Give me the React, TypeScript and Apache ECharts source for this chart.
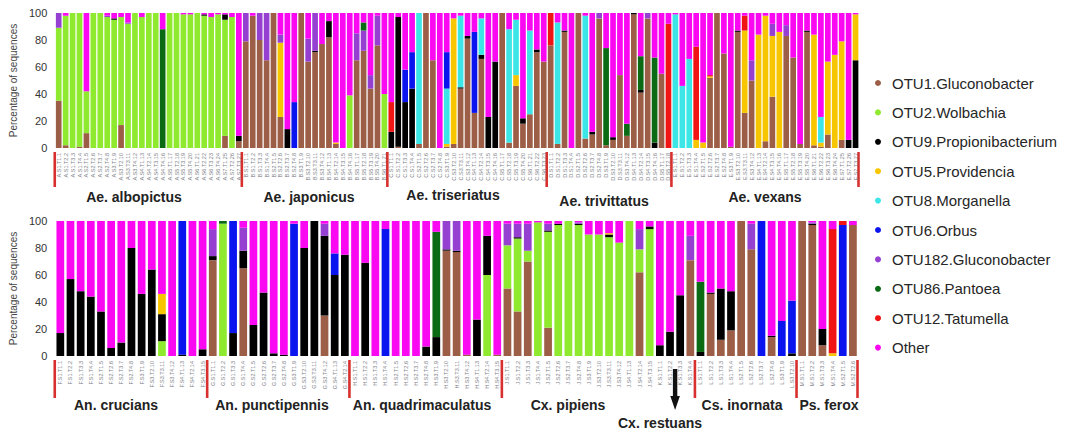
import { useEffect, useRef } from 'react';
import * as echarts from 'echarts';

// OTU order = stacking order, bottom to top
const OTU_NAMES = [
  'OTU1.Gluconobacter',
  'OTU2.Wolbachia',
  'OTU9.Propionibacterium',
  'OTU5.Providencia',
  'OTU8.Morganella',
  'OTU6.Orbus',
  'OTU182.Gluconobacter',
  'OTU86.Pantoea',
  'OTU12.Tatumella',
  'Other',
];
const OTU_COLORS = [
  '#9C5E46', '#8FEA2F', '#000000', '#F7C600', '#3DE6E6',
  '#0A14EE', '#9640D2', '#0B6A14', '#F01414', '#FA08F2',
];

// Percentage of sequences per sample; columns follow OTU_NAMES
const aeAlbopictus = [
  [35, 54, 0, 0, 0, 0, 11, 0, 0, 0],
  [2, 96, 0, 0, 0, 0, 0, 0, 0, 2],
  [0, 100, 0, 0, 0, 0, 0, 0, 0, 0],
  [1, 99, 0, 0, 0, 0, 0, 0, 0, 0],
  [11, 31, 0, 0, 0, 0, 0, 0, 0, 58],
  [0, 100, 0, 0, 0, 0, 0, 0, 0, 0],
  [0, 100, 0, 0, 0, 0, 0, 0, 0, 0],
  [0, 97, 0, 0, 0, 0, 1, 0, 0, 2],
  [0, 95, 1, 0, 0, 0, 0, 0, 0, 4],
  [17, 80, 0, 0, 0, 0, 0, 0, 0, 3],
  [0, 92, 0, 0, 0, 0, 1, 0, 0, 7],
  [0, 100, 0, 0, 0, 0, 0, 0, 0, 0],
  [0, 97, 0, 0, 0, 0, 0, 0, 0, 3],
  [0, 100, 0, 0, 0, 0, 0, 0, 0, 0],
  [0, 100, 0, 0, 0, 0, 0, 0, 0, 0],
  [0, 0, 0, 0, 0, 0, 0, 88, 0, 12],
  [0, 100, 0, 0, 0, 0, 0, 0, 0, 0],
  [0, 100, 0, 0, 0, 0, 0, 0, 0, 0],
  [0, 99, 0, 0, 0, 0, 0, 0, 0, 1],
  [0, 99, 0, 0, 0, 0, 0, 0, 0, 1],
  [0, 100, 0, 0, 0, 0, 0, 0, 0, 0],
  [0, 98, 1, 0, 0, 0, 0, 0, 0, 1],
  [0, 97, 0, 0, 0, 0, 0, 0, 0, 3],
  [0, 99, 0, 0, 0, 0, 0, 0, 0, 1],
  [9, 86, 4, 0, 0, 0, 0, 0, 0, 1],
  [0, 97, 0, 0, 0, 0, 0, 0, 0, 3],
  [5, 0, 4, 0, 0, 0, 0, 0, 0, 91],
];

const aeJaponicus = [
  [79, 0, 0, 0, 0, 0, 21, 0, 0, 0],
  [98, 0, 0, 0, 0, 0, 0, 0, 0, 2],
  [80, 0, 0, 0, 0, 0, 20, 0, 0, 0],
  [65, 0, 0, 0, 0, 0, 35, 0, 0, 0],
  [100, 0, 0, 0, 0, 0, 0, 0, 0, 0],
  [23, 0, 0, 55, 0, 0, 6, 0, 0, 16],
  [0, 0, 14, 0, 0, 0, 0, 0, 0, 86],
  [0, 0, 0, 0, 0, 34, 0, 0, 0, 66],
  [100, 0, 0, 0, 0, 0, 0, 0, 0, 0],
  [64, 0, 0, 0, 0, 0, 17, 0, 0, 19],
  [71, 0, 1, 0, 0, 0, 28, 0, 0, 0],
  [77, 0, 0, 0, 0, 0, 0, 0, 0, 23],
  [82, 0, 12, 0, 0, 0, 0, 0, 0, 6],
  [3, 0, 0, 1, 0, 0, 0, 0, 0, 96],
  [0, 0, 0, 0, 0, 0, 0, 0, 0, 100],
  [0, 39, 0, 0, 0, 0, 0, 0, 0, 61],
  [65, 0, 0, 0, 0, 0, 20, 0, 0, 15],
  [72, 0, 0, 0, 0, 0, 15, 6, 0, 7],
  [44, 0, 0, 0, 0, 0, 10, 0, 0, 46],
  [76, 0, 0, 0, 0, 0, 22, 0, 0, 2],
  [0, 40, 0, 0, 0, 0, 0, 0, 0, 60],
];

const aeTriseriatus = [
  [0, 0, 12, 0, 0, 0, 0, 0, 22, 66],
  [1, 0, 96, 0, 0, 0, 0, 0, 0, 3],
  [0, 0, 34, 0, 0, 24, 0, 0, 0, 42],
  [0, 0, 44, 0, 0, 27, 0, 0, 0, 29],
  [3, 0, 0, 0, 97, 0, 0, 0, 0, 0],
  [100, 0, 0, 0, 0, 0, 0, 0, 0, 0],
  [65, 0, 0, 0, 0, 0, 0, 0, 0, 35],
  [0, 0, 0, 0, 0, 0, 0, 0, 0, 100],
  [1, 0, 0, 2, 41, 27, 0, 0, 0, 29],
  [3, 0, 0, 93, 0, 0, 0, 0, 0, 4],
  [44, 0, 1, 0, 53, 0, 0, 0, 0, 2],
  [81, 0, 2, 0, 0, 0, 0, 0, 0, 17],
  [26, 0, 0, 0, 0, 60, 0, 0, 0, 14],
  [66, 0, 3, 0, 27, 0, 0, 0, 0, 4],
  [0, 0, 23, 0, 0, 0, 0, 0, 0, 77],
  [0, 0, 64, 0, 0, 0, 0, 0, 0, 36],
  [100, 0, 0, 0, 0, 0, 0, 0, 0, 0],
  [4, 0, 0, 0, 84, 0, 0, 0, 0, 12],
  [46, 0, 0, 8, 41, 0, 0, 0, 0, 5],
  [18, 0, 4, 0, 0, 0, 0, 0, 0, 78],
  [25, 0, 0, 0, 62, 0, 0, 0, 0, 13],
  [71, 0, 2, 0, 0, 0, 0, 0, 0, 27],
  [64, 0, 0, 0, 0, 0, 0, 0, 0, 36],
];

const aeTrivittatus = [
  [76, 0, 0, 0, 0, 0, 0, 0, 24, 0],
  [3, 0, 0, 0, 90, 0, 0, 0, 0, 7],
  [86, 0, 1, 0, 0, 0, 0, 0, 0, 13],
  [0, 0, 0, 0, 0, 0, 0, 0, 0, 100],
  [100, 0, 0, 0, 0, 0, 0, 0, 0, 0],
  [7, 0, 0, 0, 91, 0, 0, 0, 0, 2],
  [10, 0, 2, 0, 0, 0, 0, 0, 0, 88],
  [96, 0, 0, 0, 0, 0, 4, 0, 0, 0],
  [2, 0, 0, 0, 0, 0, 0, 72, 0, 26],
  [6, 0, 2, 0, 0, 0, 0, 0, 0, 92],
  [54, 0, 0, 0, 0, 0, 0, 0, 0, 46],
  [9, 0, 0, 0, 0, 0, 0, 9, 0, 82],
  [99, 0, 1, 0, 0, 0, 0, 0, 0, 0],
  [41, 0, 2, 0, 0, 0, 0, 25, 0, 32],
  [96, 0, 0, 0, 0, 0, 4, 0, 0, 0],
  [0, 0, 4, 0, 0, 0, 0, 63, 0, 33],
  [55, 0, 0, 0, 0, 0, 0, 0, 0, 45],
  [0, 0, 0, 0, 0, 0, 0, 0, 92, 8],
];

const aeVexans = [
  [0, 0, 0, 0, 99, 0, 0, 0, 0, 1],
  [0, 0, 0, 0, 46, 0, 0, 0, 0, 54],
  [0, 0, 0, 0, 66, 0, 0, 0, 0, 34],
  [0, 0, 0, 6, 0, 0, 0, 0, 69, 25],
  [0, 0, 0, 4, 0, 0, 0, 0, 0, 96],
  [52, 0, 0, 1, 0, 0, 0, 0, 1, 46],
  [100, 0, 0, 0, 0, 0, 0, 0, 0, 0],
  [70, 0, 0, 0, 0, 0, 0, 0, 0, 30],
  [1, 0, 0, 0, 0, 0, 0, 0, 0, 99],
  [86, 0, 1, 0, 0, 0, 0, 0, 0, 13],
  [26, 0, 0, 61, 0, 0, 0, 0, 11, 2],
  [50, 0, 0, 0, 0, 0, 15, 0, 0, 35],
  [0, 0, 0, 84, 0, 0, 0, 0, 0, 16],
  [5, 0, 0, 93, 0, 0, 0, 0, 0, 2],
  [38, 0, 0, 45, 0, 0, 9, 0, 0, 8],
  [0, 0, 0, 86, 0, 0, 0, 0, 0, 14],
  [83, 0, 0, 0, 0, 0, 8, 0, 0, 9],
  [67, 0, 0, 0, 0, 0, 0, 0, 0, 33],
  [3, 0, 0, 0, 0, 0, 0, 0, 0, 97],
  [86, 0, 1, 0, 0, 0, 0, 0, 0, 13],
  [2, 0, 0, 82, 0, 0, 0, 0, 0, 16],
  [1, 0, 0, 3, 19, 0, 0, 0, 0, 77],
  [10, 0, 0, 54, 0, 0, 0, 0, 0, 36],
  [0, 0, 0, 69, 0, 0, 0, 0, 0, 31],
  [6, 0, 0, 73, 0, 0, 0, 0, 0, 21],
  [0, 0, 6, 0, 0, 0, 0, 0, 0, 94],
  [0, 0, 65, 34, 0, 0, 0, 0, 0, 1],
];

const anCrucians = [
  [0, 0, 17, 0, 0, 0, 0, 0, 0, 83],
  [0, 0, 57, 0, 0, 0, 0, 0, 0, 43],
  [0, 0, 48, 0, 0, 0, 0, 0, 0, 52],
  [0, 0, 44, 0, 0, 0, 0, 0, 0, 56],
  [0, 0, 33, 0, 0, 0, 0, 0, 0, 67],
  [0, 0, 6, 0, 0, 0, 0, 0, 0, 94],
  [0, 0, 10, 0, 0, 0, 0, 0, 0, 90],
  [0, 0, 80, 0, 0, 0, 0, 0, 0, 20],
  [0, 0, 46, 0, 0, 0, 0, 0, 0, 54],
  [0, 0, 64, 0, 0, 0, 0, 0, 0, 36],
  [0, 11, 20, 15, 0, 0, 0, 0, 0, 54],
  [0, 0, 0, 0, 0, 0, 0, 0, 0, 100],
  [0, 0, 1, 0, 0, 99, 0, 0, 0, 0],
  [0, 0, 0, 0, 0, 0, 0, 0, 0, 100],
  [0, 0, 5, 0, 0, 0, 0, 0, 0, 95],
];

const anPunctipennis = [
  [71, 0, 3, 0, 0, 0, 20, 0, 0, 6],
  [0, 98, 0, 0, 0, 0, 0, 2, 0, 0],
  [0, 0, 17, 0, 0, 83, 0, 0, 0, 0],
  [65, 0, 13, 0, 0, 0, 17, 0, 0, 5],
  [0, 0, 23, 0, 0, 0, 0, 0, 0, 77],
  [0, 0, 47, 0, 0, 0, 0, 0, 0, 53],
  [0, 0, 2, 0, 0, 0, 0, 0, 0, 98],
  [0, 0, 1, 0, 0, 0, 0, 0, 0, 99],
  [0, 0, 0, 0, 0, 98, 0, 0, 0, 2],
  [0, 0, 80, 0, 0, 0, 0, 0, 0, 20],
  [0, 0, 100, 0, 0, 0, 0, 0, 0, 0],
  [30, 0, 59, 0, 0, 0, 9, 0, 0, 2],
  [0, 0, 60, 0, 0, 16, 0, 0, 0, 24],
  [0, 0, 75, 0, 0, 0, 0, 0, 0, 25],
];

const anQuadrimaculatus = [
  [0, 0, 0, 0, 0, 0, 0, 0, 0, 100],
  [0, 0, 69, 0, 0, 0, 0, 0, 0, 31],
  [0, 0, 0, 0, 0, 0, 0, 0, 0, 100],
  [0, 0, 0, 0, 0, 94, 0, 0, 0, 6],
  [0, 0, 0, 0, 0, 0, 0, 0, 0, 100],
  [0, 0, 0, 0, 0, 0, 0, 0, 0, 100],
  [0, 0, 0, 0, 0, 0, 0, 0, 0, 100],
  [0, 0, 7, 0, 0, 0, 0, 0, 0, 93],
  [0, 0, 14, 0, 0, 0, 0, 78, 0, 8],
  [78, 0, 1, 0, 0, 0, 21, 0, 0, 0],
  [77, 0, 1, 0, 0, 0, 22, 0, 0, 0],
  [1, 0, 0, 0, 0, 0, 0, 0, 0, 99],
  [0, 0, 27, 0, 0, 0, 0, 0, 0, 73],
  [0, 60, 29, 0, 0, 0, 0, 0, 0, 11],
  [1, 0, 0, 0, 0, 0, 0, 0, 0, 99],
];

const cxPipiens = [
  [50, 32, 0, 0, 0, 0, 16, 0, 0, 2],
  [33, 54, 1, 0, 0, 0, 10, 0, 0, 2],
  [70, 8, 0, 0, 0, 0, 20, 0, 0, 2],
  [0, 99, 0, 0, 0, 0, 0, 0, 0, 1],
  [21, 71, 1, 0, 0, 0, 5, 0, 0, 2],
  [0, 97, 1, 0, 0, 0, 0, 0, 0, 2],
  [0, 100, 0, 0, 0, 0, 0, 0, 0, 0],
  [0, 97, 1, 0, 0, 0, 1, 0, 0, 1],
  [0, 90, 0, 0, 0, 0, 0, 0, 0, 10],
  [0, 90, 0, 0, 0, 0, 0, 0, 0, 10],
  [0, 88, 2, 1, 0, 0, 0, 0, 0, 9],
  [0, 84, 0, 0, 0, 0, 0, 0, 0, 16],
  [0, 100, 0, 0, 0, 0, 0, 0, 0, 0],
  [62, 17, 0, 0, 0, 0, 15, 0, 0, 6],
  [0, 94, 2, 0, 0, 0, 0, 0, 0, 4],
];

const cxRestuans = [
  [0, 0, 8, 0, 0, 0, 0, 0, 0, 92],
  [0, 0, 18, 0, 0, 0, 0, 0, 0, 82],
  [0, 0, 45, 0, 0, 0, 0, 0, 0, 55],
  [71, 0, 0, 0, 0, 0, 18, 0, 0, 11],
];

const csInornata = [
  [0, 0, 3, 0, 0, 0, 0, 52, 0, 45],
  [46, 0, 1, 0, 0, 0, 0, 0, 0, 53],
  [12, 0, 38, 0, 0, 0, 0, 0, 0, 50],
  [19, 0, 29, 0, 0, 0, 0, 0, 0, 52],
  [100, 0, 0, 0, 0, 0, 0, 0, 0, 0],
  [79, 0, 0, 0, 0, 0, 19, 0, 0, 2],
  [0, 0, 0, 0, 0, 100, 0, 0, 0, 0],
  [14, 0, 1, 0, 0, 0, 0, 0, 0, 85],
  [0, 0, 0, 0, 0, 26, 0, 0, 0, 74],
  [0, 0, 2, 0, 0, 39, 0, 0, 0, 59],
];

const psFerox = [
  [100, 0, 0, 0, 0, 0, 0, 0, 0, 0],
  [97, 0, 1, 0, 0, 0, 1, 0, 0, 1],
  [8, 0, 12, 0, 0, 0, 0, 0, 0, 80],
  [0, 0, 0, 2, 0, 0, 0, 0, 92, 6],
  [0, 0, 0, 0, 0, 97, 0, 0, 3, 0],
  [97, 0, 0, 0, 0, 0, 0, 0, 0, 3],
];

const Y_TICKS = [0, 20, 40, 60, 80, 100];

// Species caption sits at (labelX, labelY) under its block of samples
type Group = { name: string; code: string; rows: number[][]; labelX: number; labelY: number };

const topGroups: Group[] = [
  { name: 'Ae. albopictus', code: 'A', rows: aeAlbopictus, labelX: 134, labelY: 197 },
  { name: 'Ae. japonicus', code: 'B', rows: aeJaponicus, labelX: 309, labelY: 197 },
  { name: 'Ae. triseriatus', code: 'C', rows: aeTriseriatus, labelX: 453, labelY: 195 },
  { name: 'Ae. trivittatus', code: 'D', rows: aeTrivittatus, labelX: 604, labelY: 201 },
  { name: 'Ae. vexans', code: 'E', rows: aeVexans, labelX: 765, labelY: 197 },
];

const bottomGroups: Group[] = [
  { name: 'An. crucians', code: 'F', rows: anCrucians, labelX: 116, labelY: 405 },
  { name: 'An. punctipennis', code: 'G', rows: anPunctipennis, labelX: 272, labelY: 405 },
  { name: 'An. quadrimaculatus', code: 'H', rows: anQuadrimaculatus, labelX: 422, labelY: 405 },
  { name: 'Cx. pipiens', code: 'J', rows: cxPipiens, labelX: 568, labelY: 405 },
  { name: 'Cx. restuans', code: 'K', rows: cxRestuans, labelX: 660, labelY: 423 },
  { name: 'Cs. inornata', code: 'L', rows: csInornata, labelX: 742, labelY: 405 },
  { name: 'Ps. ferox', code: 'M', rows: psFerox, labelX: 829, labelY: 405 },
];

const FONT = '"Liberation Sans", Arial, Helvetica, sans-serif';

const panels = [
  { groups: topGroups, grid: { left: 48, top: 13, width: 811, height: 135 }, gap: '18%' },
  { groups: bottomGroups, grid: { left: 48, top: 221, width: 810, height: 135 }, gap: '24%' },
];

// Sample identifiers: species code, site and trap
function sampleIds(g: Group): string[] {
  return g.rows.map((_, i) => `${g.code}.S${Math.floor(i / 4) + 1}.T${(i % 4) + 1}.${i + 1}`);
}

export default function App() {
  const ref = useRef<HTMLDivElement>(null);

  useEffect(() => {
    if (!ref.current) return;
    const chart = echarts.init(ref.current, null, { renderer: 'svg' });

    const grids: any[] = [];
    const xAxes: any[] = [];
    const yAxes: any[] = [];
    const series: any[] = [];

    panels.forEach((p, gi) => {
      const rows = p.groups.flatMap((g) => g.rows);
      const cats = p.groups.flatMap((g) => sampleIds(g));
      grids.push({ ...p.grid, containLabel: false });
      xAxes.push({
        type: 'category',
        gridIndex: gi,
        data: cats,
        axisLine: { show: false },
        axisTick: { show: false },
        axisLabel: {
          interval: 0,
          rotate: 90,
          fontSize: 5.5,
          color: '#7d8088',
          margin: 5,
          fontFamily: FONT,
        },
      });
      yAxes.push({
        type: 'value',
        gridIndex: gi,
        min: Y_TICKS[0],
        max: Y_TICKS[Y_TICKS.length - 1],
        interval: 20,
        splitLine: { show: false },
        axisLine: { show: false },
        axisTick: { show: false },
        axisLabel: { fontSize: 11, color: '#333', margin: 8, fontFamily: FONT },
        name: 'Percentage of sequences',
        nameLocation: 'middle',
        nameGap: 25,
        nameTextStyle: { fontSize: 10, color: '#444', fontFamily: FONT },
      });
      OTU_NAMES.forEach((name, k) => {
        series.push({
          type: 'bar',
          name,
          stack: 'panel' + gi,
          xAxisIndex: gi,
          yAxisIndex: gi,
          barCategoryGap: p.gap,
          data: rows.map((r) => r[k]),
          itemStyle: { color: OTU_COLORS[k] },
          emphasis: { disabled: true },
        });
      });
    });

    chart.setOption({
      animation: false,
      backgroundColor: '#ffffff',
      textStyle: { fontFamily: FONT },
      grid: grids,
      xAxis: xAxes,
      yAxis: yAxes,
      series,
      legend: {
        data: OTU_NAMES,
        orient: 'vertical',
        left: 870,
        top: 70.5,
        padding: 5,
        icon: 'circle',
        itemWidth: 18,
        itemHeight: 6,
        itemGap: 14.4,
        selectedMode: false,
        textStyle: { fontSize: 15, lineHeight: 15, color: '#262626', fontFamily: FONT },
      },
    });

    // Group boundary markers, species names and the restuans arrow
    const graphics: any[] = [];
    panels.forEach((p, gi) => {
      const c0 = chart.convertToPixel({ gridIndex: gi } as any, [0, 0]) as number[];
      const c1 = chart.convertToPixel({ gridIndex: gi } as any, [1, 0]) as number[];
      const band = c1[0] - c0[0];
      const edge = (i: number) => c0[0] + (i - 0.5) * band;
      const markTop = p.grid.top + p.grid.height + 4;
      const markBottom = gi === 0 ? markTop + 35 : markTop + 38;
      let start = 0;
      const markerIdx: number[] = [];
      p.groups.forEach((g) => {
        if (g.code !== 'K') markerIdx.push(start);
        const end = start + g.rows.length;
        graphics.push({
          type: 'text',
          x: g.labelX,
          y: g.labelY,
          style: {
            text: g.name,
            fontSize: 14,
            fontWeight: 'bold',
            fill: '#222',
            fontFamily: FONT,
            align: 'center',
            verticalAlign: 'middle',
          },
        });
        if (g.code === 'K') {
          const ax = (edge(start) + edge(end)) / 2;
          graphics.push({
            type: 'polygon',
            shape: {
              points: [
                [ax - 2.2, 369], [ax + 2.2, 369], [ax + 2.2, 396], [ax + 4.8, 396],
                [ax, 410], [ax - 4.8, 396], [ax - 2.2, 396],
              ],
            },
            style: { fill: '#111' },
          });
        }
        start = end;
      });
      // A marker at each group's first sample, plus one closing the last group
      markerIdx.push(start);
      markerIdx.forEach((i) => {
        const x = edge(i) - 0.5;
        graphics.push({
          type: 'line',
          shape: { x1: x, y1: markTop, x2: x, y2: markBottom },
          style: { stroke: '#D8302E', lineWidth: 2.6 },
        });
      });
    });
    chart.setOption({ graphic: graphics });

    return () => chart.dispose();
  }, []);

  return (
    <div
      ref={ref}
      style={{ position: 'fixed', left: 0, top: 0, width: 1081, height: 433, background: '#fff' }}
    />
  );
}
